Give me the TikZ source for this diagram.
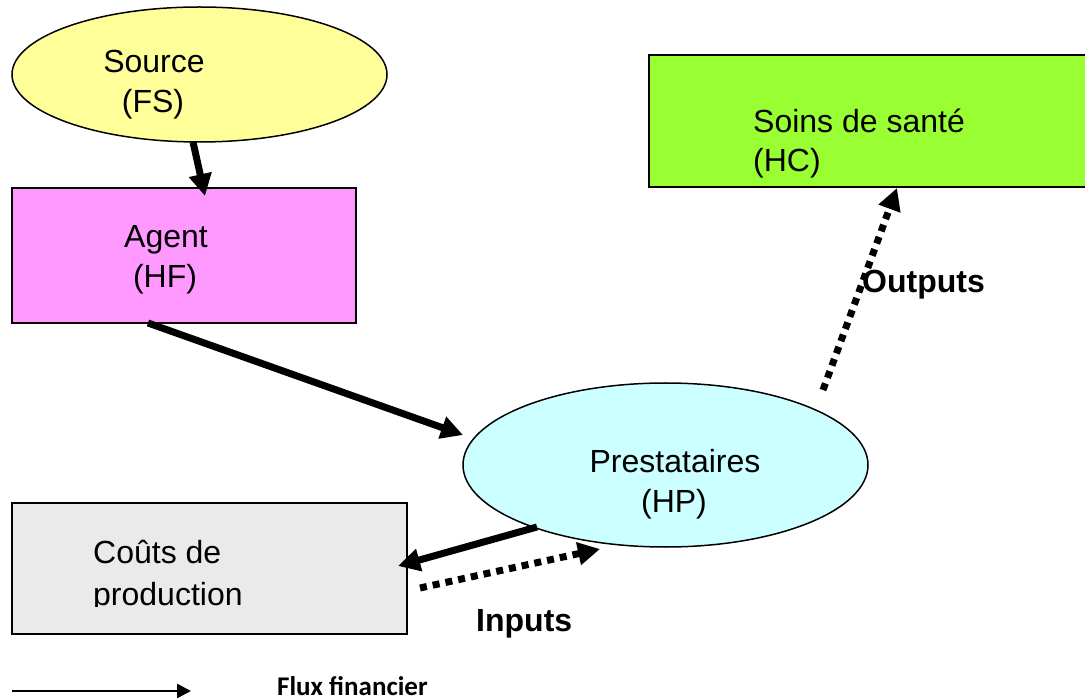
\documentclass[tikz,border=0pt]{standalone}
\usepackage{fontspec}
\setmainfont{Liberation Sans}
\newfontfamily\legendfont{Carlito}
\usetikzlibrary{arrows.meta,shapes.geometric}
\definecolor{srcfill}{HTML}{FFFF99}
\definecolor{agfill}{HTML}{FF99FF}
\definecolor{hcfill}{HTML}{99FF33}
\definecolor{hpfill}{HTML}{CCFFFF}
\definecolor{costfill}{HTML}{EAEAEA}
\begin{document}
\begin{tikzpicture}[x=1pt,y=-1pt,
  shapebox/.style={draw=black,line width=1.5pt,inner sep=0pt,outer sep=0pt},
  ovalbox/.style={shapebox,ellipse},
  rectbox/.style={shapebox,rectangle},
  lbl/.style={font=\fontsize{32}{40}\selectfont,inner sep=0pt,anchor=base},
  lblw/.style={lbl,anchor=base west},
  boldlbl/.style={font=\fontsize{32}{40}\selectfont\bfseries,inner sep=0pt,anchor=base west},
  money/.style={line width=7pt,-{Triangle[length=22pt,width=22pt]}},
  flow/.style={line width=7pt,dash pattern=on 7pt off 6pt,-{Triangle[length=22pt,width=22pt]}},
  legendarrow/.style={line width=2.5pt,-{Triangle[length=14pt,width=14pt]}}]
\useasboundingbox (0,0) rectangle (1085,700);

% shapes
\node[ovalbox,fill=srcfill,minimum width=375pt,minimum height=135pt] (src) at (199.5,74.5) {};
\node[rectbox,fill=agfill,minimum width=344pt,minimum height=135pt] (agent) at (184,255.5) {};
\node[rectbox,fill=hcfill,minimum width=446pt,minimum height=132pt] (hc) at (872,121) {};
\node[ovalbox,fill=hpfill,minimum width=405pt,minimum height=164pt] (hp) at (665.5,465) {};
\node[rectbox,fill=costfill,minimum width=395pt,minimum height=131pt] (cost) at (209.5,568.5) {};

% texts
\node[lbl] (srct1) at (154,73) {Source};
\node[lbl] (srct2) at (153,113) {(FS)};
\node[lbl] (agt1) at (166,248) {Agent};
\node[lbl] (agt2) at (165,288) {(HF)};
\node[lblw] (hct1) at (753,133) {Soins de santé};
\node[lblw] (hct2) at (753,172) {(HC)};
\node[lbl] (hpt1) at (675,473) {Prestataires};
\node[lbl] (hpt2) at (674,513) {(HP)};
\node[lblw] (costt1) at (93,563) {Coûts de};
\begin{scope}
  \clip (12,503) rectangle (407,606.5);
  \node[lblw] (costt2) at (93,605) {production};
\end{scope}
\node[boldlbl] (outl) at (862,293) {Outputs};
\node[boldlbl] (inl) at (476,631) {Inputs};
\node[inner sep=0pt,anchor=base west,font=\legendfont\fontsize{27}{32}\selectfont\bfseries] (leg) at (277,695) {Flux financier};

% connectors
\draw[money] ([xshift=-6.5pt]src.south) -- ([xshift=21pt,yshift=-8pt]agent.north);
\draw[money] ([xshift=-36pt]agent.south) -- ([yshift=30pt]hp.west);
\draw[money] ([xshift=-128.5pt,yshift=20pt]hp.south) -- ([xshift=-9pt,yshift=2.5pt]cost.east);
\draw[flow] ([xshift=13pt,yshift=-19.5pt]cost.east) -- ([xshift=-65.5pt,yshift=-2pt]hp.south);
\draw[flow] ([xshift=157.5pt,yshift=75pt]hp.center) -- ([xshift=25pt,yshift=-1pt]hc.south);

% legend
\coordinate (legA) at (12,691);
\coordinate (legB) at (191,691);
\draw[legendarrow] (legA) -- (legB);
\end{tikzpicture}
\end{document}
